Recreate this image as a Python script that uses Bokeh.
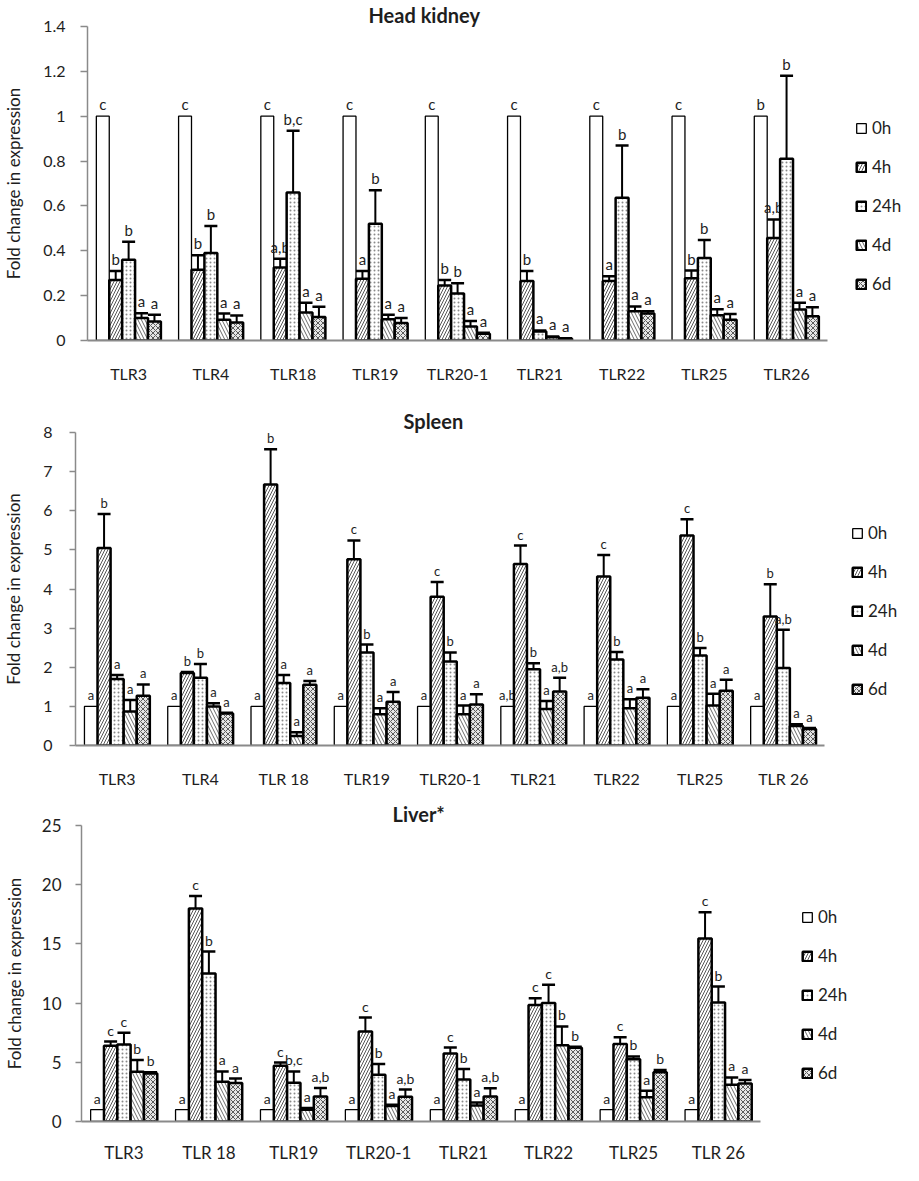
from bokeh.plotting import figure
from bokeh.models import (ColumnDataSource, Range1d, FixedTicker,
                          NumeralTickFormatter, Whisker, TeeHead, Legend, LegendItem)
from bokeh.transform import dodge
from bokeh.layouts import column
from bokeh.embed import file_html
from bokeh.resources import INLINE
from bokeh.core.properties import value

SERIES = ["0h", "4h", "24h", "4d", "6d"]

# ---------------- Head kidney ----------------
hk_genes = ["TLR3", "TLR4", "TLR18", "TLR19", "TLR20-1", "TLR21", "TLR22", "TLR25", "TLR26"]
hk_0h = [1, 1, 1, 1, 1, 1, 1, 1, 1]
hk_4h = [0.27, 0.315, 0.325, 0.275, 0.245, 0.265, 0.265, 0.277, 0.457]
hk_24h = [0.36, 0.39, 0.66, 0.52, 0.21, 0.04, 0.637, 0.368, 0.81]
hk_4d = [0.10, 0.093, 0.125, 0.095, 0.062, 0.015, 0.13, 0.113, 0.138]
hk_6d = [0.085, 0.08, 0.105, 0.078, 0.03, 0.008, 0.12, 0.093, 0.108]
hk_0h_err = [0, 0, 0, 0, 0, 0, 0, 0, 0]
hk_4h_err = [0.04, 0.065, 0.04, 0.035, 0.025, 0.045, 0.022, 0.035, 0.083]
hk_24h_err = [0.08, 0.12, 0.275, 0.15, 0.045, 0.005, 0.232, 0.08, 0.37]
hk_4d_err = [0.022, 0.027, 0.043, 0.02, 0.025, 0.003, 0.022, 0.026, 0.03]
hk_6d_err = [0.03, 0.032, 0.045, 0.022, 0.005, 0.002, 0.01, 0.025, 0.04]
hk_0h_sig = ["c", "c", "c", "c", "c", "c", "c", "c", "b"]
hk_4h_sig = ["b", "b", "a,b", "a", "b", "b", "a", "b", "a,b"]
hk_24h_sig = ["b", "b", "b,c", "b", "b", "a", "b", "b", "b"]
hk_4d_sig = ["a", "a", "a", "a", "a", "a", "a", "a", "a"]
hk_6d_sig = ["a", "a", "a", "a", "a", "a", "a", "a", "a"]

# ---------------- Spleen ----------------
sp_genes = ["TLR3", "TLR4", "TLR 18", "TLR19", "TLR20-1", "TLR21", "TLR22", "TLR25", "TLR 26"]
sp_0h = [1, 1, 1, 1, 1, 1, 1, 1, 1]
sp_4h = [5.05, 1.85, 6.67, 4.76, 3.8, 4.64, 4.32, 5.37, 3.3]
sp_24h = [1.7, 1.73, 1.6, 2.38, 2.15, 1.95, 2.2, 2.3, 1.98]
sp_4d = [0.87, 1.0, 0.24, 0.8, 0.8, 0.93, 0.95, 1.02, 0.5]
sp_6d = [1.27, 0.82, 1.55, 1.12, 1.05, 1.38, 1.22, 1.4, 0.42]
sp_0h_err = [0, 0, 0, 0, 0, 0, 0, 0, 0]
sp_4h_err = [0.87, 0.03, 0.9, 0.48, 0.38, 0.47, 0.55, 0.41, 0.82]
sp_24h_err = [0.1, 0.35, 0.2, 0.2, 0.23, 0.15, 0.19, 0.19, 0.98]
sp_4d_err = [0.29, 0.08, 0.1, 0.15, 0.22, 0.21, 0.23, 0.3, 0.04]
sp_6d_err = [0.29, 0.02, 0.1, 0.25, 0.26, 0.35, 0.22, 0.28, 0.03]
sp_0h_sig = ["a", "a", "a", "a", "a", "a,b", "a", "a", "a"]
sp_4h_sig = ["b", "b", "b", "c", "c", "c", "c", "c", "b"]
sp_24h_sig = ["a", "b", "a", "b", "b", "b", "b", "b", "a,b"]
sp_4d_sig = ["a", "a", "a", "a", "a", "a", "a", "a", "a"]
sp_6d_sig = ["a", "a", "a", "a", "a", "a,b", "a", "a", "a"]

# ---------------- Liver ----------------
lv_genes = ["TLR3", "TLR 18", "TLR19", "TLR20-1", "TLR21", "TLR22", "TLR25", "TLR 26"]
lv_0h = [1, 1, 1, 1, 1, 1, 1, 1]
lv_4h = [6.4, 18.0, 4.7, 7.6, 5.75, 9.85, 6.55, 15.45]
lv_24h = [6.5, 12.5, 3.28, 3.95, 3.55, 10.0, 5.25, 10.05]
lv_4d = [4.2, 3.35, 1.0, 1.3, 1.35, 6.45, 2.05, 3.1]
lv_6d = [4.05, 3.25, 2.12, 2.1, 2.12, 6.22, 4.15, 3.2]
lv_0h_err = [0, 0, 0, 0, 0, 0, 0, 0]
lv_4h_err = [0.35, 1.05, 0.28, 1.18, 0.5, 0.55, 0.57, 2.22]
lv_24h_err = [1.0, 1.85, 0.95, 0.9, 0.88, 1.55, 0.25, 1.35]
lv_4d_err = [1.0, 0.88, 0.15, 0.12, 0.25, 1.58, 0.55, 0.62]
lv_6d_err = [0.1, 0.38, 0.7, 0.6, 0.68, 0.1, 0.2, 0.3]
lv_0h_sig = ["a", "a", "a", "a", "a", "a", "a", "a"]
lv_4h_sig = ["c", "c", "c", "c", "c", "c", "c", "c"]
lv_24h_sig = ["c", "b", "b,c", "b", "b", "c", "b", "b"]
lv_4d_sig = ["b", "a", "a", "a", "a", "b", "a", "a"]
lv_6d_sig = ["b", "a", "a,b", "a,b", "a,b", "b", "b", "a"]

FONT = "Lato"
TXT = "#1e1e1e"
AX = "#8a8a8a"
W = 0.157
OFFS = [-2 * W, -W, 0, W, 2 * W]

STYLES = {
    "0h": dict(fill_color="white", line_width=1.3),
    "4h": dict(fill_color="white", hatch_pattern="/", hatch_color="#555555",
               hatch_scale=6, hatch_weight=1, line_width=2.5),
    "24h": dict(fill_color="white", hatch_pattern=".", hatch_color="#8a8a8a",
                hatch_scale=4, hatch_weight=1, line_width=2.5),
    "4d": dict(fill_color="white", hatch_pattern="\\", hatch_color="#6a6a6a",
               hatch_scale=7, hatch_weight=1, line_width=2.5),
    "6d": dict(fill_color="#e6e6e6", hatch_pattern="x", hatch_color="#5a5a5a",
               hatch_scale=5, hatch_weight=1, line_width=2.5),
}


def make_panel(title, genes, means, errs, sigs, y_end, ticks, fmt,
               height, b_left, group_px, b_top, b_bottom,
               title_offset, tick_font, tick_standoff, tick_out,
               cat_font, cat_standoff, ylab_standoff, sig_font, leg_x, leg_y):
    n = len(genes)
    frame_w = 903 - b_left
    x_end = frame_w / group_px
    p = figure(x_range=Range1d(0, x_end), y_range=Range1d(0, y_end),
               width=903, height=height,
               output_backend="svg", toolbar_location=None, title=title)
    p.frame_align = False
    p.min_border_left = b_left
    p.min_border_right = 0
    p.min_border_top = b_top
    p.min_border_bottom = b_bottom
    p.outline_line_color = None
    p.xgrid.grid_line_color = None
    p.ygrid.grid_line_color = None
    p.background_fill_color = "white"

    p.title.align = "left"
    p.title.offset = title_offset
    p.title.standoff = 0
    p.title.text_font = FONT
    p.title.text_font_size = "20px"
    p.title.text_font_style = "bold"
    p.title.text_color = TXT

    ya = p.yaxis[0]
    ya.ticker = FixedTicker(ticks=ticks)
    ya.formatter = NumeralTickFormatter(format=fmt)
    ya.axis_line_color = AX
    ya.axis_line_width = 1.5
    ya.major_tick_line_color = AX
    ya.major_tick_line_width = 1.5
    ya.major_tick_out = tick_out
    ya.major_tick_in = 0
    ya.minor_tick_line_color = None
    ya.major_label_text_font = FONT
    ya.major_label_text_font_size = tick_font
    ya.major_label_text_color = TXT
    ya.major_label_standoff = tick_standoff
    ya.axis_label = "Fold change in expression"
    ya.axis_label_text_font = FONT
    ya.axis_label_text_font_size = "17px"
    ya.axis_label_text_font_style = "normal"
    ya.axis_label_text_color = TXT
    ya.axis_label_standoff = ylab_standoff

    centers = [i + 0.5 for i in range(n)]
    xa = p.xaxis[0]
    xa.bounds = (0, n)
    xa.ticker = FixedTicker(ticks=centers)
    xa.major_label_overrides = {c: g for c, g in zip(centers, genes)}
    xa.axis_line_color = AX
    xa.axis_line_width = 2
    xa.major_tick_line_color = None
    xa.major_tick_out = 0
    xa.major_tick_in = 0
    xa.minor_tick_line_color = None
    xa.major_label_text_font = FONT
    xa.major_label_text_font_size = cat_font
    xa.major_label_text_color = TXT
    xa.major_label_standoff = cat_standoff

    items = []
    for name, off, m, e, s in zip(SERIES, OFFS, means, errs, sigs):
        src = ColumnDataSource(dict(
            gene=genes, pos=centers, mean=m,
            lower=[a - b for a, b in zip(m, e)],
            upper=[a + b for a, b in zip(m, e)],
            sig=s))
        r = p.vbar(x=dodge("pos", off), top="mean", width=W, bottom=0, source=src,
                   line_color="black", **STYLES[name])
        items.append(LegendItem(label=name, renderers=[r]))
        if name != "0h":
            wk = Whisker(source=src, base=dodge("pos", off),
                         upper="upper", lower="lower", dimension="height",
                         line_color="black", line_width=2,
                         upper_head=TeeHead(size=13, line_width=2.5, line_color="black"),
                         lower_head=TeeHead(size=13, line_width=2.5, line_color="black"))
            p.add_layout(wk)
        p.text(x=dodge("pos", off), y="upper", text="sig", source=src,
               text_align="center", text_baseline="bottom", y_offset=-3,
               text_font=value(FONT), text_font_size=sig_font, text_color=TXT)

    leg = Legend(items=items, location=(leg_x, leg_y),
                 orientation="vertical",
                 glyph_width=12, glyph_height=12, label_height=21,
                 label_standoff=5, spacing=18, padding=0, margin=0,
                 border_line_color=None, background_fill_alpha=0,
                 label_text_font=FONT, label_text_font_size="17px",
                 label_text_color=TXT)
    p.add_layout(leg)
    return p


p1 = make_panel("Head kidney", hk_genes,
                [hk_0h, hk_4h, hk_24h, hk_4d, hk_6d],
                [hk_0h_err, hk_4h_err, hk_24h_err, hk_4d_err, hk_6d_err],
                [hk_0h_sig, hk_4h_sig, hk_24h_sig, hk_4d_sig, hk_6d_sig],
                1.4, [0, 0.2, 0.4, 0.6, 0.8, 1.0, 1.2, 1.4], "0.[0]",
                406, 85, 742 / 9, 26, 66, 281, "16px", 15, 7,
                "16px", 23, 16, "15px", 768, 46)

p2 = make_panel("Spleen", sp_genes,
                [sp_0h, sp_4h, sp_24h, sp_4d, sp_6d],
                [sp_0h_err, sp_4h_err, sp_24h_err, sp_4d_err, sp_6d_err],
                [sp_0h_sig, sp_4h_sig, sp_24h_sig, sp_4d_sig, sp_6d_sig],
                8, [0, 1, 2, 3, 4, 5, 6, 7, 8], "0",
                393, 70, 754 / 9, 26, 54, 328, "16px", 17, 6,
                "16px", 23, 16, "13px", 776, 46)

p3 = make_panel("Liver*", lv_genes,
                [lv_0h, lv_4h, lv_24h, lv_4d, lv_6d],
                [lv_0h_err, lv_4h_err, lv_24h_err, lv_4d_err, lv_6d_err],
                [lv_0h_sig, lv_4h_sig, lv_24h_sig, lv_4d_sig, lv_6d_sig],
                25, [0, 5, 10, 15, 20, 25], "0",
                366, 79, 681 / 8, 26, 41, 311, "17px", 14, 6,
                "17px", 20, 14, "14px", 720, 38)

layout = column(p1, p2, p3, spacing=0)
open("out.html", "w").write(file_html(layout, INLINE))
